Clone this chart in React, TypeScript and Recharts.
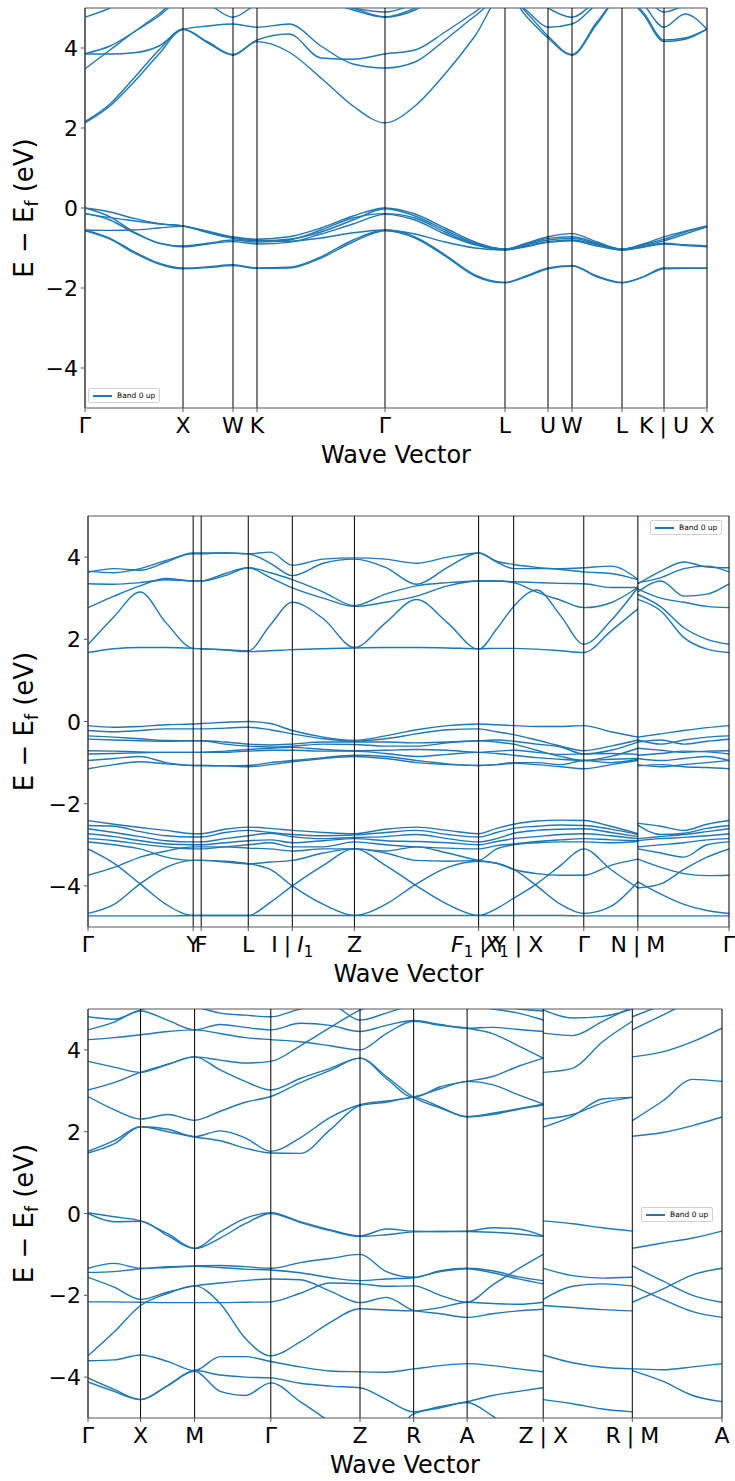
import { LineChart, Line, XAxis, YAxis, ReferenceLine, Legend } from 'recharts'

const BLUE = '#1f77b4'
const FONT = 'DejaVu Sans'

// ---------- panel 1 (FCC path) ----------
const P1_TICKS = [0, 98, 148, 172, 300, 420, 463, 487, 537, 579, 622]
const P1_LABELS = ['Γ', 'X', 'W', 'K', 'Γ', 'L', 'U', 'W', 'L', 'K|U', 'X']
const P1_K = [0, 25, 49, 74, 98, 123, 148, 172, 204, 236, 268, 300, 330, 360, 390, 420, 441, 463, 487, 512, 537, 558, 579, 600, 622]
const P1_VALENCE = [
  [0, -0.1, -0.26, -0.39, -0.45, -0.58, -0.72, -0.78, -0.72, -0.5, -0.2, 0, -0.15, -0.5, -0.85, -1.03, -0.88, -0.72, -0.64, -0.85, -1.03, -0.9, -0.72, -0.58, -0.45],
  [-0.14, -0.24, -0.32, -0.4, -0.45, -0.62, -0.76, -0.82, -0.78, -0.6, -0.3, -0.02, -0.2, -0.55, -0.88, -1.03, -0.9, -0.76, -0.72, -0.88, -1.03, -0.92, -0.78, -0.6, -0.46],
  [0, -0.22, -0.6, -0.88, -0.95, -0.88, -0.8, -0.85, -0.8, -0.55, -0.25, -0.14, -0.25, -0.6, -0.9, -1.03, -0.92, -0.8, -0.76, -0.9, -1.03, -0.94, -0.82, -0.65, -0.47],
  [-0.14, -0.3, -0.62, -0.88, -0.97, -0.9, -0.84, -0.9, -0.86, -0.65, -0.4, -0.16, -0.3, -0.65, -0.92, -1.05, -0.95, -0.84, -0.8, -0.92, -1.05, -0.97, -0.88, -0.92, -0.95],
  [-0.55, -0.56, -0.55, -0.5, -0.46, -0.6, -0.74, -0.8, -0.83, -0.75, -0.62, -0.55, -0.65, -0.85, -1.0, -1.05, -0.97, -0.86, -0.82, -0.95, -1.05, -0.98, -0.9, -0.94, -0.97],
  [-0.55, -0.76, -1.09, -1.38, -1.5, -1.47, -1.42, -1.5, -1.48, -1.22, -0.8, -0.55, -0.72, -1.17, -1.67, -1.86, -1.7, -1.5, -1.44, -1.7, -1.86, -1.72, -1.5, -1.5, -1.5],
  [-0.57, -0.78, -1.12, -1.4, -1.52, -1.49, -1.44, -1.51, -1.5, -1.25, -0.85, -0.57, -0.75, -1.2, -1.7, -1.87, -1.72, -1.52, -1.45, -1.72, -1.87, -1.73, -1.52, -1.51, -1.51],
]
const P1_CONDUCTION = [
  [2.13, 2.55, 3.15, 3.85, 4.47, 4.12, 3.82, 4.16, 3.9, 3.25, 2.55, 2.13, 2.55, 3.35, 4.3, 5.4, 4.8, 4.25, 3.82, 4.6, 5.3, 4.85, 4.16, 4.22, 4.47],
  [2.16, 2.6, 3.25, 3.95, 4.47, 4.15, 3.84, 4.2, 4.35, 3.75, 3.72, 3.85, 3.95, 4.4, 4.9, 5.4, 4.9, 4.3, 3.84, 4.65, 5.3, 4.9, 4.2, 4.25, 4.47],
  [3.48, 3.95, 4.4, 4.85, 5.3, 5.1, 4.77, 5.1, 5.3, 5.2, 4.95, 4.77, 4.95, 5.4, 5.8, 6.0, 5.4, 5.0, 4.77, 5.2, 5.6, 5.3, 4.9, 5.05, 5.1],
  [3.85, 3.85, 3.88, 4.05, 4.47, 4.55, 4.6, 4.52, 4.6, 4.05, 3.6, 3.5, 3.65, 4.2, 4.8, 5.3, 4.95, 4.52, 4.6, 5.1, 5.5, 5.1, 4.52, 4.85, 4.47],
  [4.77, 5.0, 5.3, 5.5, 5.6, 5.5, 5.3, 5.4, 5.5, 5.3, 5.0, 4.78, 5.0, 5.4, 5.7, 5.9, 5.6, 5.3, 5.1, 5.5, 5.8, 5.5, 5.2, 5.3, 5.4],
  [3.86, 4.05, 4.4, 4.8, 5.25, 5.3, 5.4, 5.4, 5.5, 5.2, 5.0, 4.9, 5.1, 5.4, 5.7, 6.0, 5.6, 5.3, 5.1, 5.5, 5.8, 5.5, 5.2, 5.3, 5.4],
]

// ---------- panel 2 (MCLC path) ----------
const P2_TICKS = [0, 105, 113, 160, 204, 266, 390, 425, 495, 549, 640]
const P2_LABELS = ['Γ', 'Y', 'F', 'L', 'I|I1', 'Z', 'F1|Y', 'X1|X', 'Γ', 'N|M', 'Γ']
const P2_K_A = [0, 26, 52, 78, 105, 113, 137, 160, 182, 204, 235, 266, 297, 328, 359, 390, 408, 425, 448, 472, 495, 522, 549]
const P2_K_B = [549, 572, 595, 618, 640]
const P2_BANDS_A = [
  [1.68, 1.77, 1.8, 1.8, 1.78, 1.77, 1.74, 1.7, 1.72, 1.75, 1.77, 1.79, 1.8, 1.8, 1.79, 1.77, 1.78, 1.78, 1.76, 1.72, 1.68, 2.2, 2.74],
  [1.87, 2.55, 3.15, 2.4, 1.78, 1.77, 1.75, 1.72, 2.35, 2.9, 2.5, 1.8, 2.4, 2.97, 2.4, 1.76, 2.25, 2.8, 3.2, 2.57, 1.88, 2.45, 3.26],
  [2.77, 3.05, 3.3, 3.48, 3.42, 3.42, 3.55, 3.74, 3.5, 3.25, 3.0, 2.8, 2.9, 3.05, 3.3, 3.42, 3.42, 3.38, 3.15, 2.95, 2.77, 2.89, 3.26],
  [3.35, 3.34, 3.38, 3.45, 3.42, 3.42, 3.6, 3.74, 3.62, 3.45, 3.15, 2.82, 3.1, 3.3, 3.38, 3.42, 3.42, 3.4, 3.38, 3.36, 3.35, 3.26, 3.26],
  [3.63, 3.72, 3.68, 3.88, 4.1, 4.1, 4.1, 4.08, 3.85, 3.55, 3.85, 3.95, 3.75, 3.34, 3.75, 4.1, 3.9, 3.82, 3.75, 3.7, 3.64, 3.6, 3.45],
  [3.66, 3.62, 3.72, 3.92, 4.08, 4.08, 4.1, 4.08, 4.12, 3.8, 3.95, 3.98, 3.95, 3.85, 4.0, 4.1, 3.88, 3.72, 3.72, 3.72, 3.74, 3.78, 3.46],
  [-0.1, -0.14, -0.12, -0.08, -0.06, -0.05, -0.02, 0.0, -0.05, -0.22, -0.38, -0.46, -0.35, -0.2, -0.1, -0.06, -0.08, -0.1, -0.12, -0.12, -0.1, -0.25, -0.38],
  [-0.22, -0.25, -0.22, -0.18, -0.18, -0.18, -0.16, -0.14, -0.2, -0.3, -0.42, -0.48, -0.42, -0.3, -0.2, -0.18, -0.25, -0.32, -0.45, -0.6, -0.71, -0.6, -0.45],
  [-0.35, -0.38, -0.42, -0.46, -0.47, -0.47, -0.5, -0.55, -0.57, -0.55, -0.5, -0.5, -0.5, -0.52, -0.5, -0.47, -0.45, -0.48, -0.55, -0.62, -0.79, -0.7, -0.5],
  [-0.43, -0.45, -0.47, -0.48, -0.47, -0.47, -0.55, -0.6, -0.62, -0.6, -0.55, -0.56, -0.6, -0.6, -0.52, -0.47, -0.5, -0.55, -0.7, -0.85, -0.95, -0.85, -0.65],
  [-0.71, -0.72, -0.74, -0.75, -0.75, -0.75, -0.72, -0.68, -0.65, -0.63, -0.68, -0.71, -0.7, -0.68, -0.7, -0.75, -0.72, -0.7, -0.75, -0.8, -0.79, -0.78, -0.8],
  [-0.79, -0.78, -0.76, -0.75, -0.75, -0.75, -0.75, -0.72, -0.7, -0.7, -0.72, -0.72, -0.78, -0.85, -0.8, -0.75, -0.78, -0.82, -0.88, -0.92, -0.95, -0.92, -0.9],
  [-0.95, -0.9, -0.85, -1.0, -1.07, -1.07, -1.08, -1.07, -1.0, -0.95, -0.88, -0.82, -0.85, -0.95, -1.03, -1.07, -1.05, -1.0, -1.0, -1.05, -0.95, -1.0, -0.92],
  [-1.15, -1.05, -0.98, -1.03, -1.07, -1.07, -1.08, -1.1, -1.05, -0.98, -0.9, -0.85, -0.9, -1.0, -1.05, -1.07, -1.05, -1.02, -1.05, -1.1, -1.15, -1.05, -0.95],
  [-2.41, -2.5, -2.58, -2.65, -2.73, -2.73, -2.62, -2.57, -2.6, -2.65, -2.7, -2.73, -2.62, -2.57, -2.65, -2.73, -2.6, -2.5, -2.42, -2.4, -2.41, -2.55, -2.73],
  [-2.53, -2.55, -2.68, -2.78, -2.81, -2.81, -2.7, -2.65, -2.7, -2.75, -2.78, -2.76, -2.7, -2.65, -2.75, -2.81, -2.7, -2.6, -2.55, -2.52, -2.53, -2.62, -2.75],
  [-2.61, -2.7, -2.8, -2.9, -2.93, -2.93, -2.85, -2.78, -2.72, -2.8, -2.85, -2.82, -2.8, -2.75, -2.85, -2.93, -2.85, -2.72, -2.65, -2.62, -2.61, -2.7, -2.8],
  [-2.73, -2.8, -2.9, -2.98, -3.0, -3.0, -2.95, -2.9, -2.88, -2.95, -2.9, -2.85, -2.9, -2.92, -2.95, -3.0, -2.92, -2.85, -2.8, -2.75, -2.73, -2.78, -2.85],
  [-2.85, -2.9, -2.98, -3.05, -3.1, -3.1, -3.05, -3.0, -2.95, -3.05, -3.05, -2.93, -3.0, -3.05, -3.08, -3.1, -3.02, -2.98, -2.92, -2.88, -2.85, -2.88, -2.9],
  [-2.93, -3.0, -3.1, -3.3, -3.38, -3.38, -3.42, -3.46, -3.42, -3.38, -3.2, -3.1, -3.2, -3.38, -3.4, -3.38, -3.1, -3.0, -2.95, -2.93, -2.93, -2.95, -2.92],
  [-3.74, -3.55, -3.3, -3.15, -3.05, -3.05, -3.05, -3.08, -3.1, -3.15, -3.1, -3.1, -3.15, -3.05, -3.2, -3.38, -3.45, -3.6, -3.7, -3.74, -3.74, -3.5, -3.35],
  [-3.1, -3.45, -3.95, -4.45, -4.72, -4.72, -4.72, -4.72, -4.4, -4.0, -3.5, -3.1, -3.5, -4.0, -4.45, -4.72, -4.55, -4.3, -3.95, -3.5, -3.1, -3.6, -4.05],
  [-4.67, -4.45, -3.95, -3.55, -3.38, -3.38, -3.4, -3.46, -3.6, -4.0, -4.45, -4.72, -4.45, -3.95, -3.55, -3.4, -3.45, -3.6, -4.0, -4.45, -4.67, -4.5, -3.9],
  [-4.73, -4.73, -4.73, -4.73, -4.72, -4.72, -4.72, -4.72, -4.72, -4.72, -4.72, -4.72, -4.72, -4.72, -4.72, -4.72, -4.72, -4.72, -4.72, -4.72, -4.73, -4.73, -4.73],
]
const P2_BANDS_B = [
  [2.97, 2.69, 2.04, 1.76, 1.68],
  [3.09, 2.79, 2.28, 2.0, 1.88],
  [3.22, 3.0, 2.9, 2.8, 2.77],
  [3.15, 3.42, 3.05, 3.1, 3.35],
  [3.38, 3.5, 3.72, 3.78, 3.64],
  [3.35, 3.66, 3.88, 3.76, 3.74],
  [-0.38, -0.3, -0.22, -0.15, -0.1],
  [-0.45, -0.55, -0.45, -0.38, -0.35],
  [-0.5, -0.45, -0.55, -0.48, -0.43],
  [-0.65, -0.7, -0.75, -0.72, -0.71],
  [-0.82, -0.78, -0.72, -0.74, -0.79],
  [-0.9, -0.95, -0.9, -0.85, -0.95],
  [-1.05, -1.1, -1.05, -1.0, -0.95],
  [-1.08, -1.05, -1.1, -1.12, -1.15],
  [-2.48, -2.55, -2.65, -2.5, -2.41],
  [-2.52, -2.75, -2.72, -2.6, -2.53],
  [-2.85, -2.8, -2.75, -2.68, -2.61],
  [-2.9, -2.85, -2.82, -2.78, -2.73],
  [-3.05, -3.0, -2.95, -2.88, -2.85],
  [-3.1, -3.2, -3.3, -3.0, -2.93],
  [-3.35, -3.55, -3.7, -3.75, -3.74],
  [-4.05, -3.95, -3.6, -3.3, -3.1],
  [-3.9, -4.2, -4.45, -4.6, -4.67],
  [-4.73, -4.73, -4.73, -4.73, -4.73],
]

// ---------- panel 3 (tetragonal path) ----------
const P3_TICKS = [0, 52.5, 106.5, 182.6, 271.7, 325.3, 378.7, 454.7, 543.7, 633.3]
const P3_LABELS = ['Γ', 'X', 'M', 'Γ', 'Z', 'R', 'A', 'Z|X', 'R|M', 'A']
const P3_K_A = [0, 26, 52.5, 80, 106.5, 132, 157, 182.6, 212, 242, 271.7, 298, 325.3, 352, 378.7, 404, 430, 454.7]
const P3_K_B = [454.7, 484, 514, 543.7]
const P3_K_C = [543.7, 574, 604, 633.3]
const P3_BANDS_A = [
  [1.48, 1.7, 2.12, 2.0, 1.87, 1.78, 1.6, 1.48, 1.47, 2.05, 2.64, 2.72, 2.84, 2.6, 2.36, 2.42, 2.55, 2.65],
  [1.52, 1.78, 2.12, 2.06, 1.88, 2.02, 1.85, 1.52, 1.85, 2.35, 2.66, 2.75, 2.85, 3.05, 3.23, 3.15, 2.9, 2.68],
  [2.86, 2.54, 2.31, 2.42, 2.28, 2.5, 2.72, 2.86, 3.2, 3.5, 3.8, 3.3, 2.84, 3.1, 3.23, 3.35, 3.6, 3.8],
  [3.02, 3.2, 3.45, 3.65, 3.83, 3.51, 3.23, 3.02, 3.3, 3.55, 3.8, 3.35, 2.84, 2.58, 2.37, 2.45, 2.56, 2.67],
  [3.72, 3.58, 3.45, 3.65, 3.83, 3.75, 3.68, 3.72, 4.1, 4.55, 4.97, 5.2, 5.3, 5.3, 5.2, 5.1, 5.0, 4.95],
  [4.25, 4.3, 4.37, 4.45, 4.49, 4.4, 4.3, 4.25, 4.2, 4.1, 4.0, 4.4, 4.7, 4.6, 4.53, 4.4, 4.1, 3.8],
  [4.49, 4.68, 4.95, 4.72, 4.49, 4.62, 4.55, 4.49, 4.65, 4.6, 4.45, 4.6, 4.72, 4.62, 4.53, 4.55, 4.5, 4.45],
  [4.81, 4.75, 4.98, 5.1, 5.05, 4.9, 4.85, 4.81, 5.0, 5.1, 4.73, 4.9, 5.1, 5.2, 5.1, 5.0, 4.9, 4.73],
  [0.02, -0.08, -0.18, -0.5, -0.85, -0.45, -0.12, 0.02, -0.2, -0.4, -0.55, -0.38, -0.43, -0.44, -0.43, -0.35, -0.38, -0.55],
  [0.0, -0.2, -0.19, -0.55, -0.86, -0.6, -0.25, 0.0, -0.22, -0.42, -0.56, -0.52, -0.45, -0.44, -0.44, -0.46, -0.5, -0.56],
  [-1.34, -1.22, -1.34, -1.3, -1.28, -1.27, -1.3, -1.34, -1.2, -1.1, -1.0, -1.42, -1.56, -1.4, -1.34, -1.4, -1.55, -1.64],
  [-1.44, -1.42, -1.35, -1.32, -1.29, -1.32, -1.36, -1.38, -1.45, -1.57, -1.64, -1.6, -1.57, -1.42, -1.35, -1.45, -1.6, -1.72],
  [-1.56, -1.8, -2.1, -1.92, -1.77, -1.7, -1.64, -1.6, -1.62, -1.9, -2.18, -2.05, -2.37, -2.45, -2.54, -2.45, -2.38, -2.34],
  [-2.16, -2.16, -2.17, -2.18, -2.18, -2.18, -2.17, -2.16, -1.95, -1.7, -1.72, -1.78, -1.77, -2.0, -2.17, -1.75, -1.35, -1.0],
  [-3.48, -2.9, -2.25, -1.95, -1.77, -2.2, -3.05, -3.48, -3.14, -2.66, -2.33, -2.36, -2.38, -2.3, -2.17, -2.2, -2.22, -2.17],
  [-3.6, -3.58, -3.46, -3.62, -3.84, -3.5, -3.5, -3.62, -3.75, -3.85, -3.87, -3.88, -3.8, -3.72, -3.67, -3.72, -3.8, -3.87],
  [-4.02, -4.3, -4.55, -4.2, -3.84, -3.95, -4.0, -4.02, -4.15, -4.22, -4.26, -4.55, -4.85, -4.72, -4.6, -4.45, -4.35, -4.26],
  [-4.12, -4.35, -4.55, -4.2, -3.86, -4.35, -4.45, -4.14, -4.6, -5.1, -5.6, -5.5, -4.9, -4.75, -4.62, -4.95, -5.4, -5.6],
]
const P3_BANDS_B = [
  [2.11, 2.38, 2.8, 2.84],
  [2.31, 2.42, 2.7, 2.84],
  [3.45, 3.55, 4.2, 4.7],
  [4.41, 4.35, 4.7, 5.05],
  [4.98, 4.78, 4.82, 5.0],
  [-0.18, -0.25, -0.35, -0.43],
  [-1.34, -1.52, -1.58, -1.56],
  [-2.1, -1.78, -1.72, -1.77],
  [-2.25, -2.3, -2.35, -2.38],
  [-3.46, -3.65, -3.76, -3.8],
  [-4.55, -4.65, -4.78, -4.85],
]
const P3_BANDS_C = [
  [1.89, 1.98, 2.15, 2.36],
  [2.27, 2.75, 3.28, 3.23],
  [3.83, 3.95, 4.2, 4.53],
  [4.49, 4.85, 5.2, 5.4],
  [4.81, 5.1, 5.4, 5.6],
  [-0.85, -0.72, -0.6, -0.43],
  [-1.28, -1.65, -2.0, -2.17],
  [-2.17, -1.85, -1.5, -1.34],
  [-1.77, -2.1, -2.4, -2.54],
  [-3.8, -3.82, -3.75, -3.67],
  [-3.84, -4.1, -4.45, -4.6],
]

type Seg = { k: number[]; bands: number[][] }

const toPoints = (k: number[], v: number[]) => k.map((x, i) => ({ k: x, e: v[i] }))

const fmtY = (v: number) => (v < 0 ? '\u2212' + Math.abs(v) : String(v))

// tick label like "I|I1": parts split on the bar, a trailing 1 means italic letter + subscript
function labelParts(label: string) {
  const out: any[] = []
  let shift = 0
  label.split('|').forEach((part, i) => {
    if (i > 0) {
      out.push(<tspan key={'b' + i} dx={6} dy={-shift}>|</tspan>)
      shift = 0
    }
    const sub = part.endsWith('1')
    const base = sub ? part.slice(0, -1) : part
    out.push(
      <tspan key={'t' + i} dx={i > 0 ? 6 : 0} dy={-shift} fontStyle={sub ? 'italic' : undefined}>
        {base}
      </tspan>
    )
    shift = 0
    if (sub) {
      out.push(<tspan key={'s' + i} fontSize={15} dy={5}>1</tspan>)
      shift = 5
    }
  })
  return out
}

function XTick(props: any) {
  const { x, y, payload, ticks, labels } = props
  const idx = ticks.indexOf(payload.value)
  return (
    <text x={x} y={y + 19} textAnchor="middle" fontSize={22} fontFamily={FONT} fill="#000">
      {labelParts(labels[idx] ?? '')}
    </text>
  )
}

function YTick(props: any) {
  const { x, y, payload } = props
  return (
    <text x={x} y={y} dy={8} textAnchor="end" fontSize={22} fontFamily={FONT} fill="#000">
      {fmtY(payload.value)}
    </text>
  )
}

const xTitle = (p: any) => {
  const vb = p.viewBox
  return (
    <text x={vb.x + vb.width / 2} y={vb.y + 55} textAnchor="middle" fontSize={24} fontFamily={FONT} fill="#000">
      Wave Vector
    </text>
  )
}

const yTitle = (p: any) => {
  const vb = p.viewBox
  const cy = vb.y + vb.height / 2
  return (
    <text transform={`rotate(-90, 33, ${cy})`} x={33} y={cy} textAnchor="middle" fontSize={26} fontFamily={FONT} fill="#000">
      E − E<tspan fontSize={17} dy={5}>f</tspan>
      <tspan dy={-5}> (eV)</tspan>
    </text>
  )
}

const LegendBox = () => (
  <div
    style={{
      border: '1px solid #d0d0d0',
      borderRadius: 2,
      background: '#fff',
      padding: '2px 4px',
      display: 'flex',
      alignItems: 'center',
      fontFamily: FONT,
      fontSize: 7.5,
      lineHeight: '9px',
      whiteSpace: 'nowrap',
    }}
  >
    <span style={{ display: 'inline-block', width: 19, borderTop: `2px solid ${BLUE}`, marginRight: 5 }} />
    Band 0 up
  </div>
)

type PanelProps = {
  top: number
  height: number
  margin: { top: number; right: number; bottom: number; left: number }
  kMax: number
  ticks: number[]
  labels: string[]
  segs: Seg[]
  legendAt: { left: number; top: number }
}

function BandPanel({ top, height, margin, kMax, ticks, labels, segs, legendAt }: PanelProps) {
  const lines: any[] = []
  segs.forEach((s, si) =>
    s.bands.forEach((b, bi) =>
      lines.push(
        <Line
          key={`${si}-${bi}`}
          data={toPoints(s.k, b)}
          dataKey="e"
          type="monotone"
          stroke={BLUE}
          strokeWidth={1.4}
          dot={false}
          activeDot={false}
          isAnimationActive={false}
        />
      )
    )
  )
  return (
    <div style={{ position: 'absolute', left: 0, top }}>
      <LineChart width={735} height={height} margin={margin}>
        <XAxis
          type="number"
          dataKey="k"
          domain={[0, kMax]}
          ticks={ticks}
          interval={0}
          allowDataOverflow
          height={32}
          tickSize={4}
          stroke="#555"
          tick={<XTick ticks={ticks} labels={labels} />}
          label={xTitle}
        />
        <YAxis
          type="number"
          domain={[-5, 5]}
          ticks={[-4, -2, 0, 2, 4]}
          allowDataOverflow
          width={80}
          tickSize={4}
          tickMargin={3}
          stroke="#555"
          tick={<YTick />}
          label={yTitle}
        />
        <ReferenceLine y={5} stroke="#555" strokeWidth={1} />
        {lines}
        {ticks.map((t) => (
          <ReferenceLine key={'v' + t} x={t} stroke="#000" strokeWidth={1} />
        ))}
        <Legend
          verticalAlign="middle"
          align="center"
          layout="horizontal"
          wrapperStyle={{ left: legendAt.left, top: legendAt.top, width: 'auto', height: 'auto' }}
          content={() => <LegendBox />}
        />
      </LineChart>
    </div>
  )
}

export default function App() {
  const p1: Seg[] = [{ k: P1_K, bands: [...P1_VALENCE, ...P1_CONDUCTION] }]
  const p2: Seg[] = [
    { k: P2_K_A, bands: P2_BANDS_A },
    { k: P2_K_B, bands: P2_BANDS_B },
  ]
  const p3: Seg[] = [
    { k: P3_K_A, bands: P3_BANDS_A },
    { k: P3_K_B, bands: P3_BANDS_B },
    { k: P3_K_C, bands: P3_BANDS_C },
  ]
  return (
    <div style={{ position: 'absolute', left: 0, top: 0, width: 735, height: 1481, background: '#fff', fontFamily: FONT }}>
      <BandPanel
        top={0}
        height={480}
        margin={{ top: 8, right: 28, bottom: 40, left: 5 }}
        kMax={622}
        ticks={P1_TICKS}
        labels={P1_LABELS}
        segs={p1}
        legendAt={{ left: 88, top: 388 }}
      />
      <BandPanel
        top={490}
        height={500}
        margin={{ top: 26, right: 6, bottom: 31, left: 8 }}
        kMax={640}
        ticks={P2_TICKS}
        labels={P2_LABELS}
        segs={p2}
        legendAt={{ left: 650, top: 30 }}
      />
      <BandPanel
        top={985}
        height={496}
        margin={{ top: 24, right: 13, bottom: 31, left: 8 }}
        kMax={633.3}
        ticks={P3_TICKS}
        labels={P3_LABELS}
        segs={p3}
        legendAt={{ left: 641, top: 222 }}
      />
    </div>
  )
}
